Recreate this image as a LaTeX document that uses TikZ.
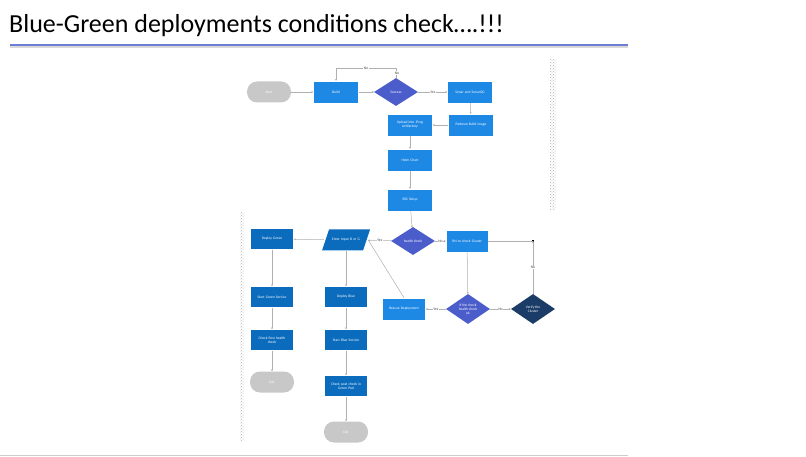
\documentclass[tikz,border=0pt]{standalone}
\usepackage{fontspec}
\setmainfont{Carlito}
\usetikzlibrary{shapes.geometric,arrows.meta,patterns}
\definecolor{bx}{HTML}{1E88E5}
\definecolor{dbx}{HTML}{0B6CBD}
\definecolor{dm}{HTML}{4B5DCB}
\definecolor{vd}{HTML}{1B3C66}
\definecolor{pill}{HTML}{C8C8C8}
\definecolor{ln}{HTML}{B0B0B0}
\begin{document}
\begin{tikzpicture}[x=1pt,y=-1pt,
  every node/.style={font=\fontsize{3.6}{4}\selectfont,text=white,align=center,inner sep=0.5pt},
  box/.style={rectangle,fill=bx,draw=white,minimum width=45,minimum height=22,text width=40},
  dbox/.style={box,fill=dbx,minimum width=43,minimum height=21},
  dia/.style={diamond,fill=dm,minimum width=44,minimum height=28,aspect=1.6,inner sep=0},
  pl/.style={rectangle,rounded corners=10,fill=pill,minimum width=44,minimum height=21},
  ar/.style={draw=ln,line width=0.5pt,-{Stealth[length=2pt,width=2pt]}},
  li/.style={draw=ln,line width=0.5pt},
  lb/.style={text=black!70,fill=white,font=\fontsize{3.8}{4}\selectfont}]
\useasboundingbox (0,0) rectangle (806,457);
\fill[white] (0,0) rectangle (806,457);
\node[anchor=west,text=black,font=\fontsize{26}{30}\selectfont,inner sep=0] (title) at (9,26) {Blue-Green deployments conditions check….!!!};
\fill[black!15] (10,46) rectangle (628,48);
\draw[color=dm!80,line width=1.3pt] (10,45) -- (628,45);
\draw[black!20,line width=1pt] (0,455) -- (628,455);
\fill[pattern=crosshatch dots,pattern color=black!30] (550,60) rectangle (556,210);
\fill[pattern=crosshatch dots,pattern color=black!30] (240,213) rectangle (244,440);

\node[pl] (start) at (269,92) {Start};
\node[box] (build) at (336,92) {Build};
\node[dia] (succ) at (396,92) {Success};
\node[box] (sonar) at (470,92) {Sonar and SonarQG};
\node[box] (podman) at (471,125) {Podman Build image};
\node[box] (upload) at (410,125) {Upload into JFrog\\Artifactory};
\node[box] (helm) at (410,160) {Helm Chart};
\node[box] (eks) at (410,200) {EKS Setup};
\node[dia] (health) at (413,241) {health check};
\node[box,minimum width=42] (sm) at (467,241) {SM to check Cluster};
\coordinate (junc) at (533,241);
\fill[black] (531.7,239.7) rectangle (534.3,242.3);
\node[dia,fill=vd,minimum height=30] (verify) at (533,309) {Verify the\\Cluster};
\node[dia,minimum height=30] (ifok) at (468,309) {If the check\\health check\\ok};
\node[box,minimum width=43] (rescue) at (404,309) {Rescue Deployment};
\fill[dbx] (322,250.5) -- (329,229.5) -- (370,229.5) -- (363,250.5) -- cycle;
\node[minimum width=44,minimum height=21,text width=36] (enter) at (346,240) {Enter Input B or G};
\node[dbox] (dg) at (272,239) {Deploy Green};
\node[dbox] (sgs) at (272,297) {Start Green Service};
\node[dbox] (cph) at (272,340) {Check Post health\\check};
\node[pl] (exit1) at (272,382) {Exit};
\node[dbox] (db) at (346,297) {Deploy Blue};
\node[dbox] (sbs) at (346,340) {Start Blue Service};
\node[dbox] (cpc) at (346,386) {Check post check in\\Green Pod};
\node[pl] (exit2) at (346,432) {Exit};

\draw[ar] (start) -- (build);
\draw[ar] (build) -- (succ);
\draw[ar] (succ) -- node[lb]{Yes} (sonar);
\draw[ar] (succ.north) -- (396,68) -- node[lb,pos=0.5]{No} (336,68) -- (build.north);
\node[lb] (nolab) at (397,73) {No};
\draw[ar] (sonar) -- (podman);
\draw[ar] (podman) -- (upload);
\draw[ar] (upload) -- (helm);
\draw[ar] (helm) -- (eks);
\draw[ar] (eks) -- (health);
\draw[ar] (health) -- node[lb]{Yes} (enter);
\draw[ar] (health) -- node[lb]{No} (sm);
\draw[li] (sm) -- (junc);
\draw[ar] (verify) -- node[lb]{No} (junc);
\draw[ar] (sm) -- (ifok);
\draw[ar] (ifok) -- node[lb]{No} (verify);
\draw[ar] (ifok) -- node[lb]{Yes} (rescue);
\draw[li] (rescue.north) -- (enter.east);
\draw[ar] (enter) -- (dg);
\draw[ar] (enter) -- (db);
\draw[ar] (dg) -- (sgs);
\draw[ar] (sgs) -- (cph);
\draw[ar] (cph) -- (exit1);
\draw[ar] (db) -- (sbs);
\draw[ar] (sbs) -- (cpc);
\draw[ar] (cpc) -- (exit2);
\end{tikzpicture}
\end{document}
